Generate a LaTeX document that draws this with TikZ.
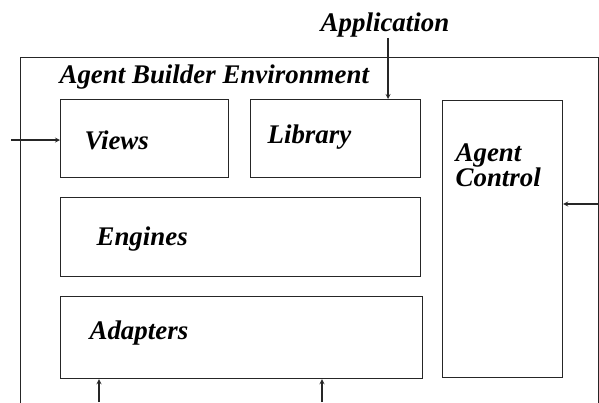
\documentclass[tikz,border=0pt]{standalone}
\usepackage{fontspec}
\setmainfont{Liberation Serif}
\usetikzlibrary{positioning}

\tikzset{
  block/.style={rectangle, draw=black!85, line width=1.2bp, anchor=north west, inner sep=0pt},
  lbl/.style={font=\fontsize{27}{25}\selectfont\bfseries\itshape, inner sep=0pt, align=left, anchor=west},
}

\begin{document}
\begin{tikzpicture}[x=1bp, y=-1bp, >=stealth, line width=1.2bp]
    \useasboundingbox (0,0) rectangle (599,402);
    \clip (0,0) rectangle (599,402);

    % Frame
    \node[block, minimum width=578bp, minimum height=380bp](env) at (20,57) {};
    \node[lbl](envtext) at (59,77) {Agent Builder Environment};
    \node[lbl, anchor=center](app) at (385,25) {Application};

    % Boxes
    \node[block, minimum width=168bp, minimum height=78bp](views) at (60,99) {};
    \node[lbl](viewstext) at (84,140) {Views};
    \node[block, minimum width=170bp, minimum height=78bp](lib) at (250,99) {};
    \node[lbl](libtext) at (267,137) {Library};
    \node[block, minimum width=120bp, minimum height=277bp](ctl) at (442,100) {};
    \node[lbl](ctltext) at (455,165) {Agent\\Control};
    \node[block, minimum width=360bp, minimum height=79bp](eng) at (60,197) {};
    \node[lbl](engtext) at (96,239) {Engines};
    \node[block, minimum width=362bp, minimum height=82bp](adp) at (60,296) {};
    \node[lbl](adptext) at (89,333) {Adapters};

    % Arrows
    \coordinate (vin) at (11,140);
    \coordinate (cin) at (598,204);
    \coordinate (ain1) at (99,402);
    \coordinate (ain2) at (322,402);
    \draw[->, black!85] ([xshift=3bp]app.south) -- ([xshift=3bp]app.south |- lib.north);
    \draw[->, black!85] (vin) -- (vin -| views.west);
    \draw[->, black!85] (cin) -- (cin -| ctl.east);
    \draw[->, black!85] (ain1) -- (ain1 |- adp.south);
    \draw[->, black!85] (ain2) -- (ain2 |- adp.south);

\end{tikzpicture}
\end{document}
